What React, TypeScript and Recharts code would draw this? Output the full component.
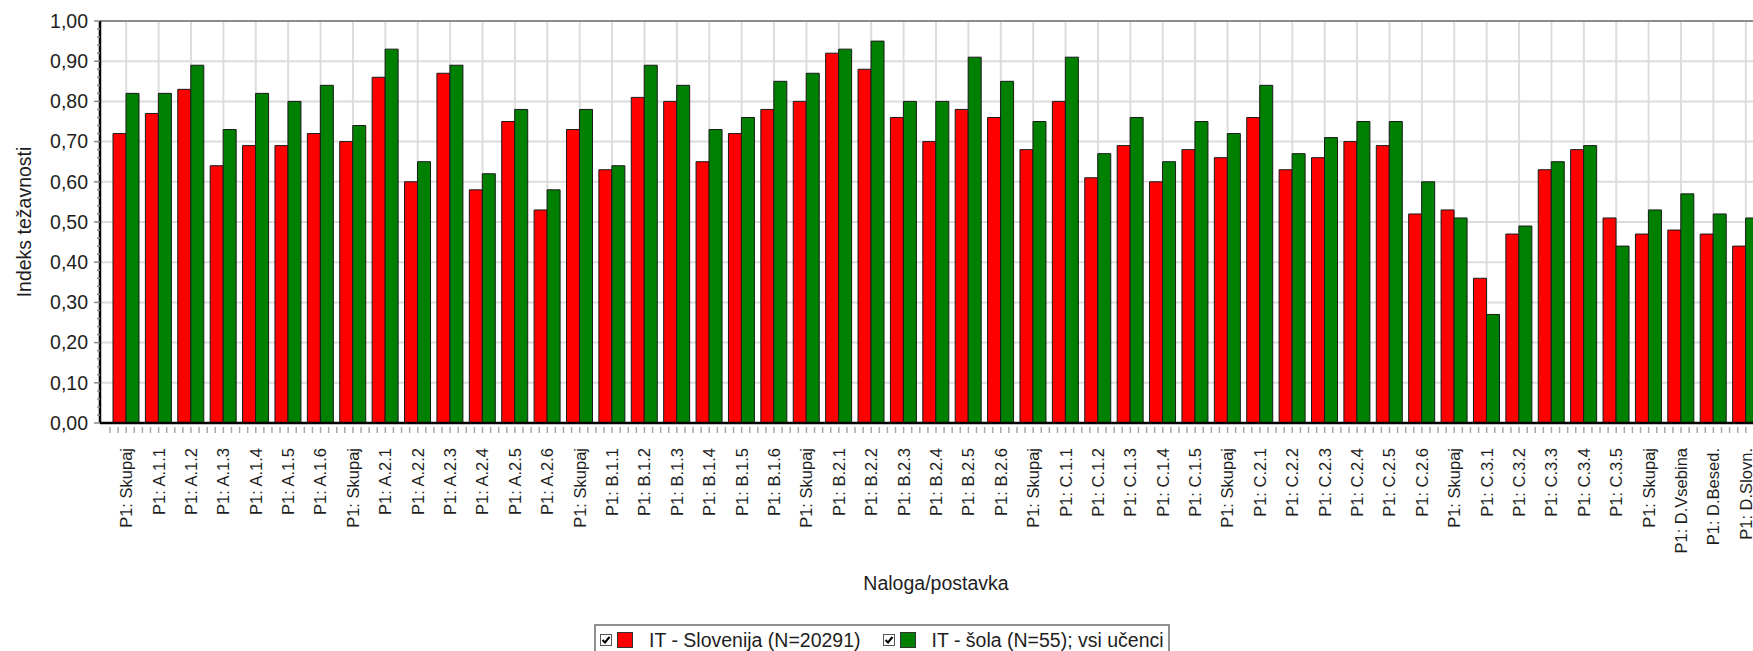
import React from 'react';
import { BarChart, Bar, XAxis, YAxis, CartesianGrid, ReferenceLine, Legend } from 'recharts';

const categories = [
  'P1: Skupaj', 'P1: A.1.1', 'P1: A.1.2', 'P1: A.1.3', 'P1: A.1.4', 'P1: A.1.5', 'P1: A.1.6',
  'P1: Skupaj', 'P1: A.2.1', 'P1: A.2.2', 'P1: A.2.3', 'P1: A.2.4', 'P1: A.2.5', 'P1: A.2.6',
  'P1: Skupaj', 'P1: B.1.1', 'P1: B.1.2', 'P1: B.1.3', 'P1: B.1.4', 'P1: B.1.5', 'P1: B.1.6',
  'P1: Skupaj', 'P1: B.2.1', 'P1: B.2.2', 'P1: B.2.3', 'P1: B.2.4', 'P1: B.2.5', 'P1: B.2.6',
  'P1: Skupaj', 'P1: C.1.1', 'P1: C.1.2', 'P1: C.1.3', 'P1: C.1.4', 'P1: C.1.5',
  'P1: Skupaj', 'P1: C.2.1', 'P1: C.2.2', 'P1: C.2.3', 'P1: C.2.4', 'P1: C.2.5', 'P1: C.2.6',
  'P1: Skupaj', 'P1: C.3.1', 'P1: C.3.2', 'P1: C.3.3', 'P1: C.3.4', 'P1: C.3.5',
  'P1: Skupaj', 'P1: D.Vsebina', 'P1: D.Besed.', 'P1: D.Slovn.',
];

const slovenija = [
  0.72, 0.77, 0.83, 0.64, 0.69, 0.69, 0.72,
  0.70, 0.86, 0.60, 0.87, 0.58, 0.75, 0.53,
  0.73, 0.63, 0.81, 0.80, 0.65, 0.72, 0.78,
  0.80, 0.92, 0.88, 0.76, 0.70, 0.78, 0.76,
  0.68, 0.80, 0.61, 0.69, 0.60, 0.68,
  0.66, 0.76, 0.63, 0.66, 0.70, 0.69, 0.52,
  0.53, 0.36, 0.47, 0.63, 0.68, 0.51,
  0.47, 0.48, 0.47, 0.44,
];

const sola = [
  0.82, 0.82, 0.89, 0.73, 0.82, 0.80, 0.84,
  0.74, 0.93, 0.65, 0.89, 0.62, 0.78, 0.58,
  0.78, 0.64, 0.89, 0.84, 0.73, 0.76, 0.85,
  0.87, 0.93, 0.95, 0.80, 0.80, 0.91, 0.85,
  0.75, 0.91, 0.67, 0.76, 0.65, 0.75,
  0.72, 0.84, 0.67, 0.71, 0.75, 0.75, 0.60,
  0.51, 0.27, 0.49, 0.65, 0.69, 0.44,
  0.53, 0.57, 0.52, 0.51,
];

const seriesNames = ['IT - Slovenija (N=20291)', 'IT - šola (N=55); vsi učenci'];
const yAxisTitle = 'Indeks težavnosti';
const xAxisTitle = 'Naloga/postavka';

const yMajorTicks = [0, 0.1, 0.2, 0.3, 0.4, 0.5, 0.6, 0.7, 0.8, 0.9, 1.0];
const yAllTicks = Array.from({ length: 51 }, (_, i) => i / 50);

const data = categories.map((name, i) => ({ name, slovenija: slovenija[i], sola: sola[i] }));

const CHART_W = 1772;
const CHART_H = 651;
const YAXIS_W = 100;
const XAXIS_H = 228;
const X_PAD = 10;
const BAND = (CHART_W - YAXIS_W - 2 * X_PAD) / categories.length;
const FONT = '"Liberation Sans", Arial, sans-serif';

const XTick = (props: any) => {
  const { x, y, payload, index } = props;
  const label = payload && payload.value != null ? payload.value : categories[index];
  const ty = y + 25;
  return (
    <g>
      {[0, 1, 2, 3].map((k) => (
        <line
          key={k}
          x1={x - BAND / 2 + (k * BAND) / 4}
          x2={x - BAND / 2 + (k * BAND) / 4}
          y1={y + 4}
          y2={y + 10}
          stroke="#a8a8a8"
          strokeWidth={1.5}
        />
      ))}
      <text
        x={x}
        y={ty}
        transform={`rotate(-90, ${x}, ${ty})`}
        textAnchor="end"
        dy="0.36em"
        fontSize={16.5}
        fill="#1e1e1e"
        fontFamily={FONT}
      >
        {label}
      </text>
    </g>
  );
};

const YTick = (props: any) => {
  const { x, y, payload } = props;
  const v = Number(payload.value);
  const major = Math.abs(v * 10 - Math.round(v * 10)) < 1e-6;
  return (
    <g>
      <line x1={x - (major ? 6 : 3)} x2={x} y1={y} y2={y} stroke="#8a8a8a" strokeWidth={1.5} />
      {major && (
        <text x={x - 12} y={y} dy="0.35em" textAnchor="end" fontSize={19.5} fill="#1e1e1e" fontFamily={FONT}>
          {v.toFixed(2).replace('.', ',')}
        </text>
      )}
    </g>
  );
};

const YTitle = (props: any) => {
  const vb = props.viewBox || { x: 0, y: 21, width: YAXIS_W, height: 402 };
  const cx = vb.x + 24;
  const cy = vb.y + vb.height / 2;
  return (
    <text
      x={cx}
      y={cy}
      transform={`rotate(-90, ${cx}, ${cy})`}
      textAnchor="middle"
      dy="0.35em"
      fontSize={19.5}
      fill="#1e1e1e"
      fontFamily={FONT}
    >
      {yAxisTitle}
    </text>
  );
};

const XTitle = (props: any) => {
  const vb = props.viewBox || { x: YAXIS_W, y: 423, width: CHART_W - YAXIS_W, height: XAXIS_H };
  const cx = vb.x + vb.width / 2;
  const cy = vb.y + 167;
  return (
    <text x={cx} y={cy} textAnchor="middle" fontSize={19.5} fill="#1e1e1e" fontFamily={FONT}>
      {xAxisTitle}
    </text>
  );
};

const CheckBox = () => (
  <svg width={12} height={12} style={{ display: 'block' }}>
    <rect x={0.5} y={0.5} width={11} height={11} fill="#fff" stroke="#555" strokeWidth={1} />
    <path d="M2.5 6 L5 8.5 L9.5 3" fill="none" stroke="#000" strokeWidth={2} />
  </svg>
);

const LegendBox = (props: any) => {
  const payload = props.payload || [];
  return (
    <div
      style={{
        boxSizing: 'border-box',
        width: '100%',
        height: '100%',
        border: '2px solid #8f8f8f',
        background: '#fff',
        display: 'flex',
        alignItems: 'flex-start',
        paddingLeft: 4,
        paddingTop: 4,
        fontFamily: FONT,
        fontSize: 19.5,
        color: '#1e1e1e',
      }}
    >
      {payload.map((entry: any, i: number) => (
        <div
          key={i}
          style={{ display: 'flex', alignItems: 'center', height: 20, marginLeft: i === 0 ? 0 : 22 }}
        >
          <CheckBox />
          <div
            style={{
              width: 16,
              height: 16,
              background: entry.color,
              border: '1px solid #333',
              boxSizing: 'border-box',
              marginLeft: 5,
              marginRight: 16,
            }}
          />
          <span style={{ whiteSpace: 'nowrap', lineHeight: '20px' }}>{entry.value}</span>
        </div>
      ))}
    </div>
  );
};

export default function App() {
  return (
    <div
      style={{
        position: 'absolute',
        left: 0,
        top: 0,
        width: 1753,
        height: 651,
        overflow: 'hidden',
        background: '#fff',
        fontFamily: FONT,
      }}
    >
      <BarChart
        width={CHART_W}
        height={CHART_H}
        data={data}
        margin={{ top: 21, right: 0, bottom: 0, left: 0 }}
        barGap={0}
        barCategoryGap="10%"
      >
        <CartesianGrid stroke="#dcdcdc" strokeWidth={2} horizontalValues={yMajorTicks} />
        <ReferenceLine y={1} stroke="#8c8c8c" strokeWidth={2} />
        <Bar
          dataKey="slovenija"
          name={seriesNames[0]}
          fill="#FF0000"
          stroke="#1a1a1a"
          strokeWidth={1}
          barSize={13}
          isAnimationActive={false}
        />
        <Bar
          dataKey="sola"
          name={seriesNames[1]}
          fill="#008000"
          stroke="#1a1a1a"
          strokeWidth={1}
          barSize={13}
          isAnimationActive={false}
        />
        <XAxis
          dataKey="name"
          interval={0}
          height={XAXIS_H}
          padding={{ left: X_PAD, right: X_PAD }}
          tickSize={0}
          tickMargin={0}
          tickLine={false}
          axisLine={{ stroke: '#000', strokeWidth: 2.5 }}
          tick={<XTick />}
          label={{ content: (p: any) => <XTitle {...p} /> }}
        />
        <YAxis
          width={YAXIS_W}
          domain={[0, 1]}
          ticks={yAllTicks}
          interval={0}
          tickSize={0}
          tickMargin={0}
          tickLine={false}
          axisLine={{ stroke: '#000', strokeWidth: 2.5 }}
          tick={<YTick />}
          label={{ content: (p: any) => <YTitle {...p} /> }}
        />
        <Legend
          layout="horizontal"
          verticalAlign="middle"
          align="center"
          wrapperStyle={{ position: 'absolute', left: 594, top: 624, width: 576, height: 40 }}
          content={(p: any) => <LegendBox payload={p.payload} />}
        />
      </BarChart>
    </div>
  );
}
